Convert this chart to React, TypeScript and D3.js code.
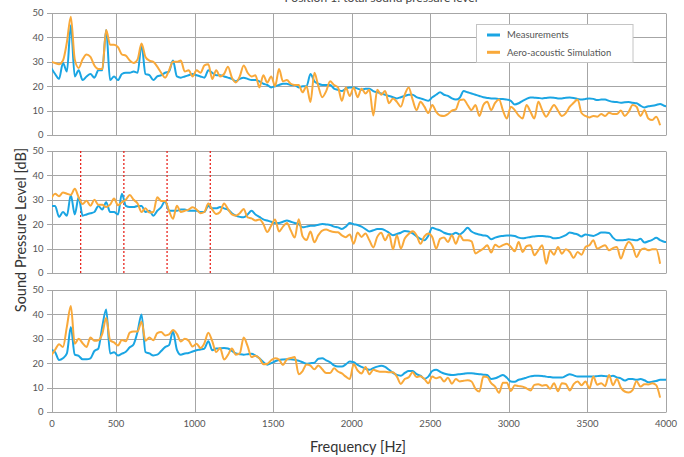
import React, { useRef, useEffect } from "react";
import * as d3 from "d3";

// spectra sampled every 25 Hz starting at 87.5 Hz
const FREQ_START = 87.5;
const FREQ_STEP = 25;
// left edge of the plot area (the original labels it "0")
const X_MIN = 92.7;
const X_MAX = 4000;
const xTicks = [X_MIN, 500, 1000, 1500, 2000, 2500, 3000, 3500, 4000];
const yTicks = [0, 10, 20, 30, 40, 50];
const harmonics = [275, 550, 825, 1100];
const seriesNames = ["Measurements", "Aero-acoustic Simulation"];

const measured1 = [
  27.5, 25, 23, 29.5, 26, 45, 24, 26.5,
  22.5, 24, 25, 23.5, 26.5, 26.5, 43, 22.5,
  24, 22.5, 25, 25.5, 25.5, 26, 25.5, 37,
  25, 24.5, 22.5, 24, 24.5, 25.5, 26, 30.5,
  24, 23.5, 24, 24.5, 25, 24.5, 24, 23.5,
  26.5, 25.5, 24.5, 24.5, 24, 23.5, 23, 22,
  23, 23.5, 23, 22.5, 22.5, 22, 21, 20.5,
  19.5, 20, 20.5, 21, 21, 20.5, 20.5, 19.5,
  20, 20, 25, 22, 21, 20.5, 20.5, 20.5,
  19, 18.5, 18, 19, 19.5, 19.5, 19, 18.5,
  19, 19, 18, 17.5, 17, 16.5, 16, 15.5,
  15, 15.5, 16, 16.5, 16.5, 15.5, 15, 14.5,
  14, 15.5, 16.5, 17.5, 16.5, 16, 15, 14.5,
  15.3, 18, 17.5, 17, 16.5, 16, 15.5, 15.2,
  15, 15, 14.8, 14.8, 14.5, 14, 12.5, 13,
  14, 14.8, 15.4, 15.3, 15.2, 15, 15.2, 15.4,
  15.3, 15, 15, 15.3, 15.4, 15.2, 14.8, 14.5,
  14.8, 15, 14.8, 14.3, 14.5, 14.5, 14, 13.6,
  13.5, 13.2, 13.4, 13.5, 13.2, 13, 12, 11.3,
  11.8, 12, 12.3, 12.7, 12, 11.6,
];

const simulated1 = [
  30, 29.5, 29, 30.5, 38, 48.5, 31, 27.5,
  31, 33, 32, 28.5, 27, 27, 43, 37,
  37, 36, 33, 32.5, 30.5, 29.5, 31, 37.5,
  32, 30.5, 30, 28, 25.5, 23.5, 26.5, 30,
  30, 30.5, 26, 26.5, 24, 26.5, 25.5, 28.5,
  29, 23, 26.5, 24, 25, 28, 23.5, 21.5,
  24, 28.5, 25.5, 24, 24.5, 19.5, 24.5, 21.5,
  24, 20, 27, 22, 22.5, 21, 20.5, 20.5,
  17.5, 20, 13.5, 25.5, 20, 15.5, 18, 22,
  20.5, 19.5, 14, 19.5, 16, 19.5, 15.5, 19,
  17, 18.5, 8, 18.5, 16.5, 18, 13, 15,
  13.6, 11.6, 16.5, 19.5, 14.5, 10.2, 13.6, 11.6,
  9, 12.3, 9.5, 8, 7.8, 8.6, 10, 10.5,
  14.3, 14.6, 12.3, 10.2, 12.3, 7.8, 12.3, 13.6,
  10.2, 13.2, 14.6, 10, 6.8, 11.6, 10.2, 8,
  6.8, 12.3, 9.5, 6.8, 13.6, 10.2, 7.5, 10,
  12.3, 10, 7.8, 9, 11.6, 13.2, 14.6, 9,
  7.8, 7.2, 7.8, 7.5, 8.6, 7.8, 9.1, 8.6,
  8.6, 10, 7.8, 9.5, 12.3, 11.6, 7.8, 10.2,
  6.8, 6.1, 7.5, 4,
];

const measured2 = [
  27.5, 27.5, 23, 25, 23.5, 32, 24, 31,
  23.5, 24, 24.5, 25, 27.5, 26, 29, 25,
  25, 24, 32.5, 27.5, 27, 27, 27.5, 27.5,
  25, 25.5, 23.5, 25.5, 27, 29.5, 25.5, 25.5,
  25.5, 26, 26, 25.5, 25.5, 25.5, 25, 25,
  27.5, 26.5, 26.5, 27, 26.5, 26, 24.5, 23.5,
  23, 22.8, 24, 25.5, 24, 23, 22, 21.5,
  21, 20.5, 20.5, 21, 21.5, 21, 20.5, 20,
  18.7, 19, 19.4, 19.4, 19.8, 20.1, 19.9, 19.7,
  19, 18.7, 18, 19, 20.5, 20, 19.7, 19,
  18, 17, 17.5, 18, 18, 17.5, 16.5, 15.5,
  16, 16.5, 17.2, 17, 16.2, 15, 14, 13.4,
  15.3, 18.5, 18, 17.5, 16.5, 16, 15.8, 16.5,
  15.8, 17, 18.5, 17, 16.2, 15.8, 15.4, 15.2,
  13.8, 14.5, 15, 15.2, 15.4, 15.4, 15.2, 14.5,
  14.2, 14.5, 14.8, 15, 15.2, 15.2, 15, 14.8,
  14.2, 14.3, 14.8, 15.5, 16.6, 16.2, 15.8, 15,
  15.8, 15.5, 15.2, 15.8, 16.6, 16.6, 16.4, 14.5,
  13.4, 13.4, 13.5, 13.8, 13.6, 13.4, 14, 12.5,
  13, 13.6, 14.4, 13.5, 12.8, 12.6,
];

const simulated2 = [
  30.5, 32.5, 31.5, 33, 32.5, 32, 34.5, 31,
  28.3, 29.6, 27.6, 30, 28, 28, 27, 28,
  30.5, 27.8, 29, 30, 32, 30, 28.5, 25,
  26.5, 24.8, 25, 31, 29.5, 29.5, 25.5, 22.2,
  27.6, 25, 25.5, 26, 26.9, 26, 24.5, 25,
  28.5, 26, 24.2, 25, 28.5, 26.2, 24, 23.5,
  24.5, 26.2, 22.8, 22.4, 21.5, 21.9, 20.1, 16.8,
  19.4, 21.9, 17, 19, 20.5, 17.4, 14.5, 22,
  15, 13.5, 17, 12.6, 15.5, 17.4, 17.8, 17.2,
  16.8, 16.7, 15.4, 14.7, 15.8, 12, 16.6, 14.8,
  16.2, 13.4, 10.5, 14.8, 16.5, 13.4, 16, 9.7,
  15.5, 10, 14.1, 16, 17.1, 15.5, 12, 15,
  16.2, 14.8, 10, 14, 14.6, 12.7, 15.5, 12,
  15.5, 13.4, 13.4, 13, 8, 9, 10, 11.4,
  8.4, 11.6, 10.7, 11.4, 12, 10.7, 8.9, 12.7,
  8.6, 11, 11.4, 7.3, 9.3, 11.4, 3.8, 9.3,
  7.5, 10.7, 7.9, 9.7, 8.6, 6.2, 8.6, 7.5,
  10.7, 11.4, 13.4, 10, 10.7, 11.4, 9.3, 10.2,
  10.7, 5.9, 10, 12.7, 11, 6.6, 9.3, 10,
  9.3, 9.7, 9.7, 3.8,
];

const measured3 = [
  25.5, 24.5, 21.3, 22, 24, 34.8, 23.5, 23,
  21.6, 21.6, 22, 25, 26, 35, 42, 24,
  24.5, 23.2, 23.9, 24.7, 26.5, 27.8, 33, 40,
  24.6, 24, 23.2, 23.5, 25, 26.6, 27.4, 33,
  25.5, 23.5, 24, 24.2, 24.8, 25.3, 25.6, 26,
  29, 25.3, 26, 26.1, 26.2, 26, 25, 24,
  23.7, 23.5, 23.7, 23.9, 23.1, 22, 20.5, 19.4,
  20, 20.8, 21.3, 21.5, 21.6, 21.6, 21.4, 21,
  20.4, 19.8, 20, 20.2, 21.8, 22, 21.2, 20.4,
  19.1, 18.6, 18.6, 19.5, 20.7, 20.4, 19.3, 18.5,
  17.8, 17.3, 18, 18.6, 19, 18.5, 17.3, 16,
  15.2, 14.9, 16, 16.8, 16.8, 15.5, 14.9, 13.6,
  14.5, 16.8, 17.3, 16.5, 15.8, 15.4, 15.2, 15.3,
  15.5, 15.7, 15.9, 15.9, 15.7, 15.5, 15.3, 15.2,
  13.5, 13.8, 14.5, 15.2, 14, 12.5, 12.4, 13.2,
  13.6, 14.1, 14.6, 14.9, 14.9, 14.8, 14.5, 14.3,
  14.1, 14.1, 14.1, 14.8, 15.5, 15, 14.5, 14.5,
  14.5, 14.5, 14.5, 14.7, 14.9, 14.7, 14.5, 14.9,
  14.2, 13.8, 12.9, 13.5, 13.5, 13.2, 13.5, 13,
  12.2, 12.4, 12.7, 13.2, 13.2, 13.2,
];

const simulated3 = [
  23.2, 25.5, 27.8, 26.6, 35, 43.4, 28, 30,
  28.2, 26.6, 30.5, 29.2, 29.4, 32, 38.5, 29.4,
  28.5, 27.3, 29.5, 29, 32.5, 33, 33, 37,
  29.2, 30.5, 29.4, 32.3, 32.8, 31.4, 31.8, 33.6,
  32, 28.9, 30, 29.2, 26.8, 28, 26.2, 28.2,
  32.5, 29, 24.6, 26.2, 21.5, 23.4, 26, 23.5,
  24, 30.5, 27, 22.5, 23.1, 22, 19.6, 19.8,
  21.2, 22, 21.5, 19.3, 21.6, 22.1, 22.5, 15.5,
  16.8, 19.5, 19, 17.5, 19.1, 17.5, 16, 16,
  17.9, 16.6, 15.8, 14.5, 13.5, 19.6, 17, 15.8,
  18.4, 15.5, 17.3, 16.8, 16.5, 16.5, 16.3, 16.3,
  14.5, 11.5, 13.5, 14.2, 16.3, 14.3, 14.7, 13.5,
  11.8, 14.5, 13.8, 14.3, 12.5, 14, 11.6, 13.5,
  12.5, 12.8, 13, 12.5, 9.5, 8.4, 14.5, 14.3,
  11.8, 10.4, 7.9, 12, 12, 8.6, 11, 10.6,
  10.4, 9.7, 8.8, 11.1, 11.4, 10.8, 11.1, 9.5,
  11.8, 8.5, 11.8, 11.5, 8.8, 11.4, 12.5, 11,
  12.5, 9.7, 14.5, 11.2, 11.8, 10.6, 15.2, 11,
  13.5, 10, 8.4, 8, 9, 12.6, 10.4, 11.4,
  11.3, 11.8, 11, 5.9,
];

const panels = [
  { measured: measured1, simulated: simulated1, markers: [] as number[] },
  { measured: measured2, simulated: simulated2, markers: harmonics },
  { measured: measured3, simulated: simulated3, markers: [] as number[] },
];

const W = 684;
const H = 457;
const LEFT = 52;
const RIGHT = 666;
const PANEL_TOPS = [13, 151, 290];
const PANEL_H = 122;
const FONT = "Lato, 'Open Sans', sans-serif";
const GRID = "#a6a6a6";
const BLUE = "#1aa5e3";
const ORANGE = "#f9a93a";

const freqAt = (i: number) => FREQ_START + i * FREQ_STEP;

export default function App() {
  const ref = useRef<SVGSVGElement>(null);

  useEffect(() => {
    const svg = d3.select(ref.current);
    svg.selectAll("*").remove();

    const x = d3.scaleLinear().domain([X_MIN, X_MAX]).range([LEFT, RIGHT]);
    const px = (v: number) => Math.round(v) + 0.5;

    svg.append("defs").append("clipPath").attr("id", "plot-clip")
      .append("rect").attr("x", LEFT).attr("y", 0)
      .attr("width", RIGHT - LEFT).attr("height", H);

    // title, cut off by the top edge in the original as well
    svg.append("text")
      .attr("x", 381).attr("y", 1.5)
      .attr("text-anchor", "middle")
      .attr("font-family", FONT).attr("font-size", 12)
      .attr("fill", "#444")
      .text("Position 1: total sound pressure level");

    panels.forEach((p, i) => {
      const top = PANEL_TOPS[i];
      const y = d3.scaleLinear().domain([0, 50]).range([top + PANEL_H, top]);
      const g = svg.append("g");

      // horizontal grid + y ticks
      g.selectAll("line.hgrid").data(yTicks).join("line")
        .attr("x1", LEFT - 5).attr("x2", RIGHT)
        .attr("y1", d => px(y(d))).attr("y2", d => px(y(d)))
        .attr("stroke", GRID).attr("stroke-width", 1);

      // vertical grid (incl. left axis and right border)
      g.selectAll("line.vgrid").data(xTicks).join("line")
        .attr("x1", d => px(x(d))).attr("x2", d => px(x(d)))
        .attr("y1", px(y(50))).attr("y2", px(y(0)))
        .attr("stroke", GRID).attr("stroke-width", 1);

      g.selectAll("text.ylab").data(yTicks).join("text")
        .attr("x", 43.5).attr("y", d => y(d) + 3.4)
        .attr("text-anchor", "end")
        .attr("font-family", FONT).attr("font-size", 9.5)
        .attr("fill", "#555")
        .text(d => d);

      // harmonic markers
      g.selectAll("line.marker").data(p.markers).join("line")
        .attr("x1", d => x(d)).attr("x2", d => x(d))
        .attr("y1", y(50)).attr("y2", y(0))
        .attr("stroke", "#e8261f").attr("stroke-width", 1.3)
        .attr("stroke-dasharray", "2,2");

      const line = d3.line<number>()
        .x((_, j) => x(freqAt(j)))
        .y(d => y(d))
        .curve(d3.curveMonotoneX);

      const lines = g.append("g").attr("clip-path", "url(#plot-clip)");
      lines.append("path").datum(p.measured)
        .attr("d", line).attr("fill", "none")
        .attr("stroke", BLUE).attr("stroke-width", 2)
        .attr("stroke-linejoin", "round");
      lines.append("path").datum(p.simulated)
        .attr("d", line).attr("fill", "none")
        .attr("stroke", ORANGE).attr("stroke-width", 2)
        .attr("stroke-linejoin", "round");

      if (i === panels.length - 1) {
        g.selectAll("text.xlab").data(xTicks).join("text")
          .attr("x", d => x(d)).attr("y", y(0) + 14.5)
          .attr("text-anchor", "middle")
          .attr("font-family", FONT).attr("font-size", 9.5)
          .attr("fill", "#555")
          .text(d => (d === X_MIN ? "0" : d));
      }
    });

    // axis titles
    svg.append("text")
      .attr("x", 358).attr("y", 452)
      .attr("text-anchor", "middle")
      .attr("font-family", FONT).attr("font-size", 14.5)
      .attr("fill", "#333")
      .text("Frequency [Hz]");

    svg.append("text")
      .attr("transform", "translate(25.5,230) rotate(-90)")
      .attr("text-anchor", "middle")
      .attr("font-family", FONT).attr("font-size", 14.5)
      .attr("fill", "#333")
      .text("Sound Pressure Level [dB]");

    // legend
    const lg = svg.append("g");
    lg.append("rect")
      .attr("x", 476.5).attr("y", 24.5).attr("width", 156.5).attr("height", 38)
      .attr("fill", "#fff").attr("stroke", "#c4c4c4");
    const colors = [BLUE, ORANGE];
    seriesNames.forEach((name, k) => {
      const ly = 35 + k * 17.3;
      lg.append("line")
        .attr("x1", 487).attr("x2", 500).attr("y1", ly).attr("y2", ly)
        .attr("stroke", colors[k]).attr("stroke-width", 3);
      lg.append("text")
        .attr("x", 507).attr("y", ly + 3.4)
        .attr("font-family", FONT).attr("font-size", 9.5)
        .attr("fill", "#555")
        .text(name);
    });
  }, []);

  return (
    <svg
      ref={ref}
      width={W}
      height={H}
      style={{ position: "absolute", left: 0, top: 0, background: "#fff" }}
    />
  );
}
